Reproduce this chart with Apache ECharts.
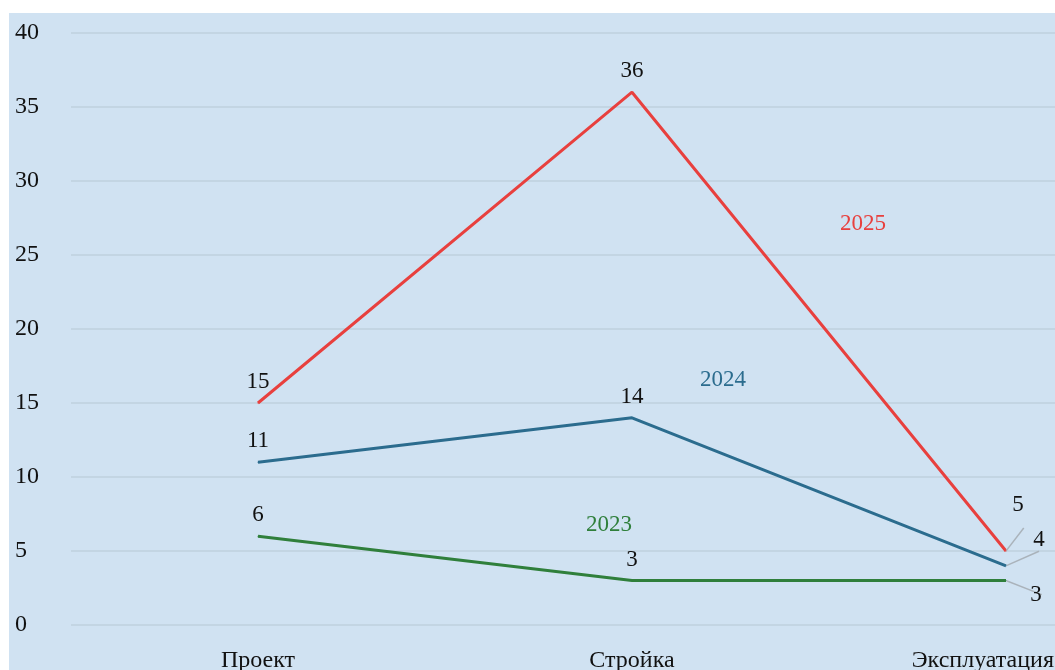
<!DOCTYPE html>
<html><head><meta charset="utf-8">
<script src="https://cdn.jsdelivr.net/npm/echarts@6/dist/echarts.min.js"></script>
<style>html,body{margin:0;padding:0;background:#fff;}#c{width:1055px;height:670px;}</style>
</head><body><div id="c"></div>
<script>
const categories = ['Проект', 'Стройка', 'Эксплуатация'];
const s2025 = [15, 36, 5];
const s2024 = [11, 14, 4];
const s2023 = [6, 3, 3];
const yTicks = [0, 5, 10, 15, 20, 25, 30, 35, 40];

const FONT = 'Liberation Serif';
const lblBase = {show: true, position: 'top', distance: 9, color: '#111', fontFamily: FONT, fontSize: 23};

function mkData(vals, lastOffset) {
  return vals.map((v, i) => {
    if (i === vals.length - 1) {
      return {value: v, label: {position: 'inside', offset: lastOffset}, labelLine: {show: true, lineStyle: {color: '#aab3bb', width: 1.5}}};
    }
    return v;
  });
}

const xData = categories.map((c, i) => i === categories.length - 1
  ? {value: c, textStyle: {align: 'right', padding: [0, -48, 0, 0]}}
  : c);

const chart = echarts.init(document.getElementById('c'));
chart.setOption({
  animation: false,
  backgroundColor: 'transparent',
  graphic: [
    {type: 'rect', z: -10, shape: {x: 9, y: 13, width: 1046, height: 657}, style: {fill: '#d0e2f2'}},
    {type: 'text', left: 840, top: 212, style: {text: '2025', fill: '#e8403e', font: '23px "Liberation Serif"'}},
    {type: 'text', left: 700, top: 368, style: {text: '2024', fill: '#2b6c8e', font: '23px "Liberation Serif"'}},
    {type: 'text', left: 586, top: 513, style: {text: '2023', fill: '#2f7f3b', font: '23px "Liberation Serif"'}}
  ],
  grid: {left: 71, top: 33, width: 1122, height: 592, outerBoundsMode: 'none', containLabel: false},
  xAxis: {
    type: 'category', data: xData, boundaryGap: true,
    axisLine: {show: false}, axisTick: {show: false},
    axisLabel: {color: '#111', fontFamily: FONT, fontSize: 24, margin: 24}
  },
  yAxis: {
    type: 'value', min: 0, max: 40, interval: 5,
    axisLine: {show: false}, axisTick: {show: false},
    splitLine: {lineStyle: {color: '#c3d5e3', width: 2}},
    axisLabel: {color: '#111', fontFamily: FONT, fontSize: 24, align: 'left', margin: 56,
      formatter: v => yTicks.includes(v) ? String(v) : ''}
  },
  series: [
    {name: '2025', type: 'line', data: mkData(s2025, [12, -46]), symbol: 'circle', symbolSize: 1,
      lineStyle: {color: '#e8403e', width: 3}, itemStyle: {color: '#e8403e'}, label: lblBase},
    {name: '2024', type: 'line', data: mkData(s2024, [33, -26]), symbol: 'circle', symbolSize: 1,
      lineStyle: {color: '#2b6c8e', width: 3}, itemStyle: {color: '#2b6c8e'}, label: lblBase},
    {name: '2023', type: 'line', data: mkData(s2023, [30, 14]), symbol: 'circle', symbolSize: 1,
      lineStyle: {color: '#2f7f3b', width: 3}, itemStyle: {color: '#2f7f3b'}, label: lblBase}
  ]
});
</script></body></html>
